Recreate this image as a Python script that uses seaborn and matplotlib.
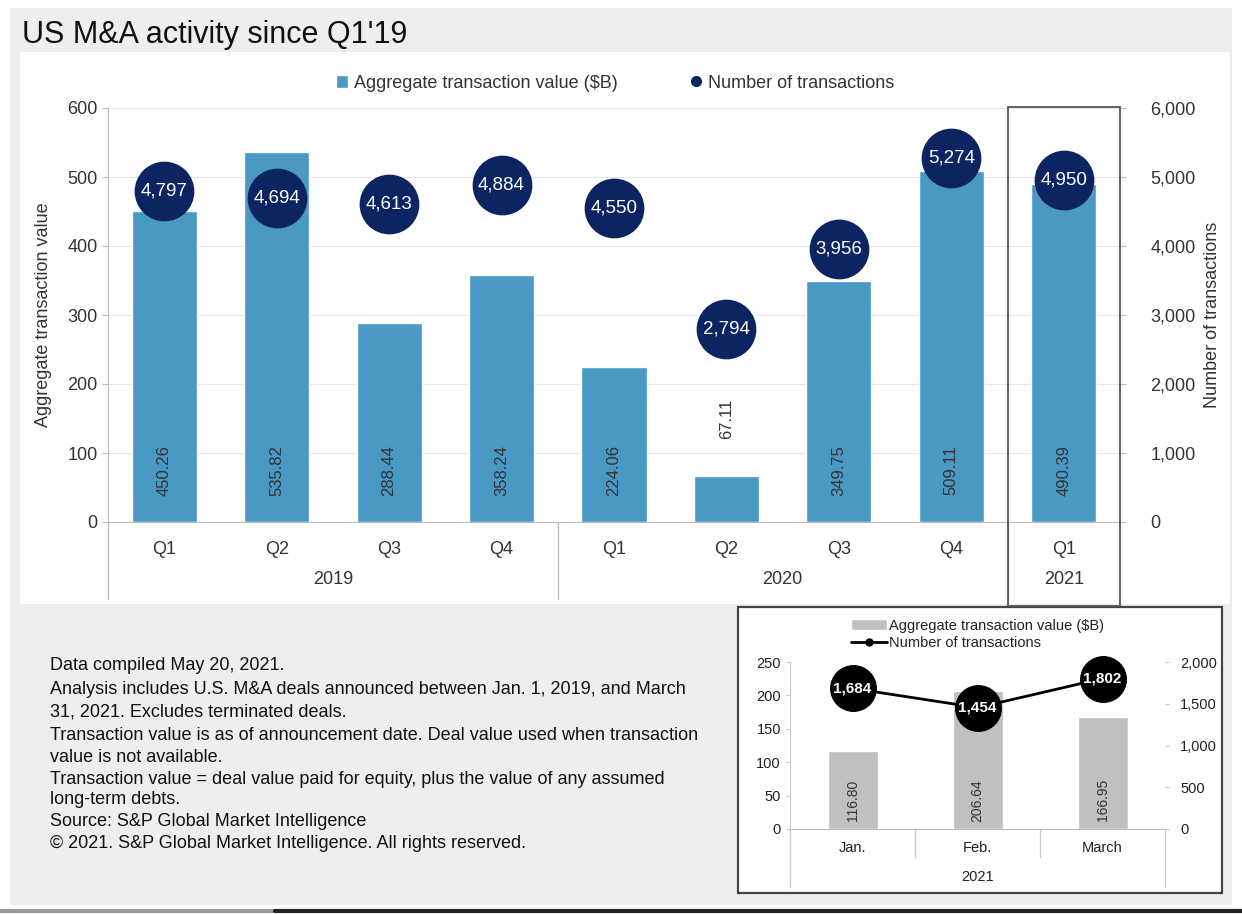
import numpy as np
import pandas as pd
import matplotlib
matplotlib.use("Agg")
import matplotlib.pyplot as plt
import seaborn as sns
from matplotlib.patches import Rectangle, Patch
from matplotlib.lines import Line2D
from matplotlib.ticker import FuncFormatter, MultipleLocator

# data
quarters = ["Q1", "Q2", "Q3", "Q4", "Q1", "Q2", "Q3", "Q4", "Q1"]
years = ["2019", "2019", "2019", "2019", "2020", "2020", "2020", "2020", "2021"]
agg_value = [450.26, 535.82, 288.44, 358.24, 224.06, 67.11, 349.75, 509.11, 490.39]
n_deals = [4797, 4694, 4613, 4884, 4550, 2794, 3956, 5274, 4950]

months = ["Jan.", "Feb.", "March"]
month_value = [116.80, 206.64, 166.95]
month_deals = [1684, 1454, 1802]

notes = [
    "Data compiled May 20, 2021.",
    "Analysis includes U.S. M&A deals announced between Jan. 1, 2019, and March",
    "31, 2021. Excludes terminated deals.",
    "Transaction value is as of announcement date. Deal value used when transaction",
    "value is not available.",
    "Transaction value = deal value paid for equity, plus the value of any assumed",
    "long-term debts.",
    "Source: S&P Global Market Intelligence",
    "\u00a9 2021. S&P Global Market Intelligence. All rights reserved.",
]

BLUE = "#4a98c4"
NAVY = "#0c2462"
TXT = "#333333"
W, H = 1242, 914

sns.set_style("white")
plt.rcParams['font.family'] = ['Liberation Sans', 'DejaVu Sans']


def fx(px):
    return px / W


def fy(py):
    return 1 - py / H


df = pd.DataFrame({"period": [q + " " + y for q, y in zip(quarters, years)],
                   "value": agg_value, "deals": n_deals})
dm = pd.DataFrame({"month": months, "value": month_value, "deals": month_deals})

fig = plt.figure(figsize=(W / 100, H / 100), dpi=100)
fig.patch.set_facecolor("white")
fig.add_artist(Rectangle((fx(10), fy(905)), fx(1222), 897 / H, transform=fig.transFigure,
                         facecolor="#eeeeee", edgecolor="none", zorder=-10))
fig.add_artist(Rectangle((fx(20), fy(604)), fx(1210), 552 / H, transform=fig.transFigure,
                         facecolor="white", edgecolor="none", zorder=-9))
fig.add_artist(Line2D([0, fx(275)], [fy(911), fy(911)], transform=fig.transFigure,
                      color="#9a9a9a", lw=3))
fig.add_artist(Line2D([fx(275), 1], [fy(911), fy(911)], transform=fig.transFigure,
                      color="#222222", lw=3))

fig.text(fx(22), fy(35), "US M&A activity since Q1'19", fontsize=22, color="#111111",
         va="center", ha="left")

# main chart
ax = fig.add_axes([fx(108), fy(522), fx(1120 - 108), (522 - 108) / H])
sns.barplot(data=df, x="period", y="value", order=df["period"], color=BLUE,
            saturation=1, width=0.58, ax=ax)
ax.set_xlim(-0.5, len(df) - 0.5)
ax.set_ylim(0, 600)
ax.yaxis.set_major_locator(MultipleLocator(100))
ax.grid(axis="y", color="#e6e6e6", lw=0.8)
ax.set_axisbelow(True)
for s in ["top", "right"]:
    ax.spines[s].set_visible(False)
ax.spines["left"].set_color("#bbbbbb")
ax.spines["bottom"].set_color("#bbbbbb")
ax.tick_params(axis="y", labelsize=13, colors=TXT, length=4, color="#bbbbbb")
ax.tick_params(axis="x", length=0, pad=14, labelsize=13, labelcolor=TXT)
ax.set_xticks(range(len(quarters)))
ax.set_xticklabels(quarters)
ax.set_xlabel("")
ax.set_ylabel("Aggregate transaction value", fontsize=13, color=TXT, labelpad=11)

for i, v in enumerate(agg_value):
    if v < 100:
        ax.text(i, v + 82, f"{v:.2f}", rotation=90, ha="center", va="center",
                fontsize=12, color=TXT)
    else:
        ax.text(i, 75, f"{v:.2f}", rotation=90, ha="center", va="center",
                fontsize=12, color=TXT)

tr = ax.get_xaxis_transform()
for xd, bottom in [(-0.5, -0.185), (3.5, -0.185), (7.5, -0.185)]:
    ax.plot([xd, xd], [0, bottom], transform=tr, color="#bbbbbb", lw=1, clip_on=False)
for lab, xc in [("2019", 1.5), ("2020", 5.5), ("2021", 8)]:
    ax.text(xc, -58 / 414, lab, transform=tr, ha="center", va="center",
            fontsize=13, color=TXT)

ax2 = ax.twinx()
sns.scatterplot(x=np.arange(len(n_deals)), y=n_deals, ax=ax2, s=1850, color=NAVY,
                edgecolor=NAVY, linewidth=0, legend=False, zorder=3)
ax2.set_ylim(0, 6000)
ax2.yaxis.set_major_locator(MultipleLocator(1000))
ax2.yaxis.set_major_formatter(FuncFormatter(lambda v, p: f"{v:,.0f}"))
for s in ax2.spines.values():
    s.set_visible(False)
ax2.tick_params(axis="y", labelsize=13, colors=TXT, length=4, color="#bbbbbb", pad=18)
ax2.set_ylabel("Number of transactions", fontsize=13, color=TXT, labelpad=6)
for i, n in enumerate(n_deals):
    ax2.text(i, n, f"{n:,}", ha="center", va="center", color="white",
             fontsize=13.5, zorder=4)

# box around latest quarter
fig.add_artist(Rectangle((fx(1008), fy(606)), fx(112), (606 - 107) / H,
                         transform=fig.transFigure, fill=False,
                         edgecolor="#555555", lw=1.3, zorder=5))

fig.legend(handles=[Patch(facecolor=BLUE, label="Aggregate transaction value ($B)"),
                    Line2D([], [], marker="o", ls="none", color=NAVY, markersize=7,
                           label="Number of transactions")],
           loc="center", bbox_to_anchor=(fx(615), fy(83)), ncol=2, frameon=False,
           fontsize=13, handlelength=0.7, handleheight=0.7, handletextpad=0.3,
           columnspacing=4, labelcolor=TXT)

# notes
note_y = [666, 690, 712, 735, 757, 779, 800, 822, 844]
for t, yy in zip(notes, note_y):
    fig.text(fx(50), fy(yy), t, fontsize=13, color="#111111", va="center",
             family=['Liberation Sans Narrow', 'Liberation Sans', 'DejaVu Sans'])

# inset
fig.add_artist(Rectangle((fx(738), fy(893)), fx(484), (893 - 607) / H,
                         transform=fig.transFigure, facecolor="white",
                         edgecolor="#444444", lw=1.6, zorder=-5))
ai = fig.add_axes([fx(790), fy(829), fx(1165 - 790), (829 - 662) / H])
ai.patch.set_visible(False)
sns.barplot(data=dm, x="month", y="value", order=months, color="#c0c0c0",
            saturation=1, width=0.4, ax=ai)
ai.set_xlim(-0.5, 2.5)
ai.set_ylim(0, 250)
ai.yaxis.set_major_locator(MultipleLocator(50))
for s in ["top", "right"]:
    ai.spines[s].set_visible(False)
ai.spines["left"].set_color("#cccccc")
ai.spines["bottom"].set_color("#bbbbbb")
ai.tick_params(axis="y", labelsize=10.5, colors="#222222", length=3, color="#cccccc")
ai.tick_params(axis="x", length=0, pad=9, labelsize=10.5, labelcolor="#222222")
ai.set_xlabel("")
ai.set_ylabel("")
for i, v in enumerate(month_value):
    ai.text(i, 43, f"{v:.2f}", rotation=90, ha="center", va="center",
            fontsize=10, color="#333333")
tri = ai.get_xaxis_transform()
for xd, bottom in [(-0.5, -0.35), (0.5, -0.17), (1.5, -0.17), (2.5, -0.35)]:
    ai.plot([xd, xd], [0, bottom], transform=tri, color="#cccccc", lw=1, clip_on=False)
ai.text(1, -48 / 167, "2021", transform=tri, ha="center", va="center",
        fontsize=10.5, color="#222222")

ai2 = ai.twinx()
sns.lineplot(x=np.arange(len(month_deals)), y=month_deals, ax=ai2, color="black",
             lw=2, marker="o", markersize=33, markeredgecolor="black", legend=False,
             clip_on=False)
ai2.set_ylim(0, 2000)
ai2.yaxis.set_major_locator(MultipleLocator(500))
ai2.yaxis.set_major_formatter(FuncFormatter(lambda v, p: f"{v:,.0f}"))
for s in ai2.spines.values():
    s.set_visible(False)
ai2.tick_params(axis="y", labelsize=10.5, colors="#222222", length=3, color="#cccccc",
                pad=8)
ai2.set_ylabel("")
for i, n in enumerate(month_deals):
    ai2.text(i, n, f"{n:,}", ha="center", va="center", color="white",
             fontsize=11, fontweight="bold", zorder=5)

fig.legend(handles=[Patch(facecolor="#c0c0c0", label="Aggregate transaction value ($B)"),
                    Line2D([], [], marker="o", color="black", lw=2, markersize=5,
                           label="Number of transactions")],
           loc="upper left", bbox_to_anchor=(fx(842), fy(610)), ncol=1, frameon=False,
           fontsize=10.5, handlelength=2.5, handleheight=0.8, handletextpad=0.1,
           labelspacing=0.25, borderpad=0.1, labelcolor="#222222")

fig.savefig("out.png", dpi=100)
